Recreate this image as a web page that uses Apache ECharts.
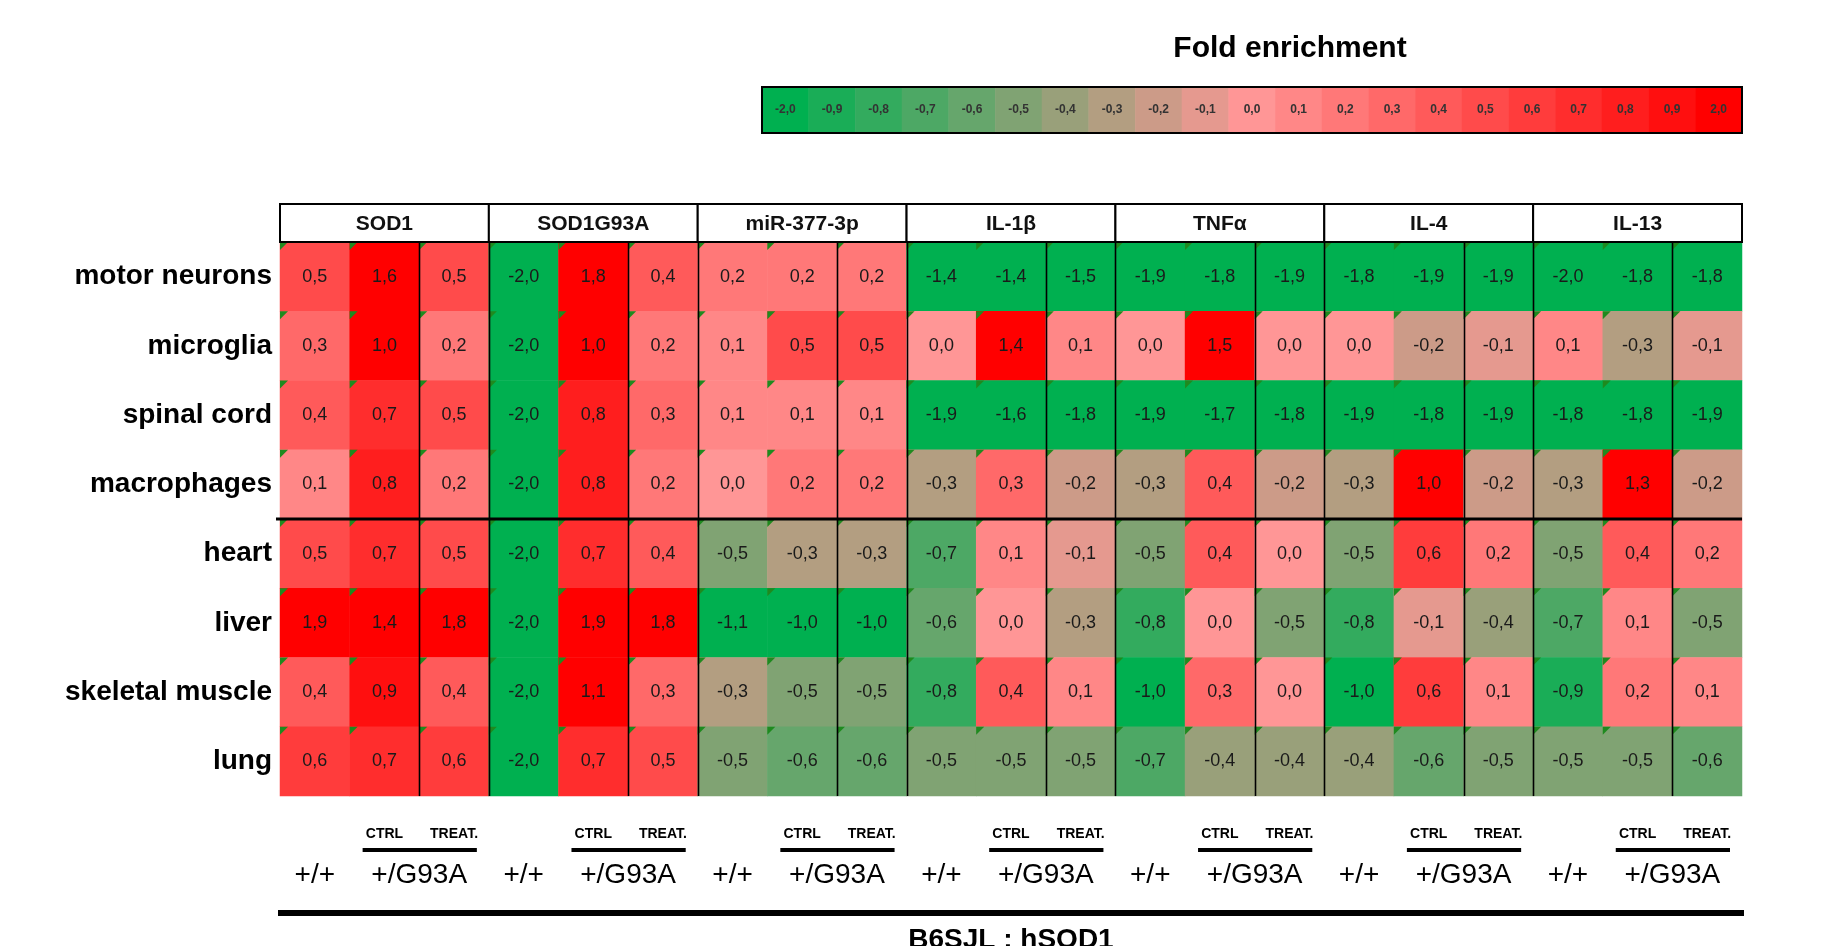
<!DOCTYPE html>
<html><head><meta charset="utf-8">
<script src="https://cdn.jsdelivr.net/npm/echarts@6/dist/echarts.min.js"></script>
<style>html,body{margin:0;padding:0;background:#fff}#c{width:1821px;height:946px}</style>
</head><body><div id="c"></div>
<script>
// ---------- data ----------
const tissues = ['motor neurons','microglia','spinal cord','macrophages','heart','liver','skeletal muscle','lung'];
const groups = ['SOD1','SOD1G93A','miR-377-3p','IL-1β','TNFα','IL-4','IL-13'];
const conditionsPerGroup = ['+/+','CTRL','TREAT.'];
const genotypeLabels = ['+/+','+/G93A'];
const strainLabel = 'B6SJL ; hSOD1';
const legendTitle = 'Fold enrichment';
const separatorAfter = 'macrophages';

const motorNeurons   = [0.5,1.6,0.5,-2.0,1.8,0.4,0.2,0.2,0.2,-1.4,-1.4,-1.5,-1.9,-1.8,-1.9,-1.8,-1.9,-1.9,-2.0,-1.8,-1.8];
const microglia      = [0.3,1.0,0.2,-2.0,1.0,0.2,0.1,0.5,0.5,0.0,1.4,0.1,0.0,1.5,0.0,0.0,-0.2,-0.1,0.1,-0.3,-0.1];
const spinalCord     = [0.4,0.7,0.5,-2.0,0.8,0.3,0.1,0.1,0.1,-1.9,-1.6,-1.8,-1.9,-1.7,-1.8,-1.9,-1.8,-1.9,-1.8,-1.8,-1.9];
const macrophages    = [0.1,0.8,0.2,-2.0,0.8,0.2,0.0,0.2,0.2,-0.3,0.3,-0.2,-0.3,0.4,-0.2,-0.3,1.0,-0.2,-0.3,1.3,-0.2];
const heart          = [0.5,0.7,0.5,-2.0,0.7,0.4,-0.5,-0.3,-0.3,-0.7,0.1,-0.1,-0.5,0.4,0.0,-0.5,0.6,0.2,-0.5,0.4,0.2];
const liver          = [1.9,1.4,1.8,-2.0,1.9,1.8,-1.1,-1.0,-1.0,-0.6,0.0,-0.3,-0.8,0.0,-0.5,-0.8,-0.1,-0.4,-0.7,0.1,-0.5];
const skeletalMuscle = [0.4,0.9,0.4,-2.0,1.1,0.3,-0.3,-0.5,-0.5,-0.8,0.4,0.1,-1.0,0.3,0.0,-1.0,0.6,0.1,-0.9,0.2,0.1];
const lung           = [0.6,0.7,0.6,-2.0,0.7,0.5,-0.5,-0.6,-0.6,-0.5,-0.5,-0.5,-0.7,-0.4,-0.4,-0.4,-0.6,-0.5,-0.5,-0.5,-0.6];

const legendValues = [-2.0,-0.9,-0.8,-0.7,-0.6,-0.5,-0.4,-0.3,-0.2,-0.1,0.0,0.1,0.2,0.3,0.4,0.5,0.6,0.7,0.8,0.9,2.0];
const colorStops = ['#00B050','#00B050','#FF9696','#FF0000','#FF0000']; // at -2,-1,0,1,2

// ---------- build ----------
const rows = [motorNeurons, microglia, spinalCord, macrophages, heart, liver, skeletalMuscle, lung];
const columns = [];
groups.forEach(g => conditionsPerGroup.forEach(c => columns.push(g + ' ' + c)));
const heatData = [];
rows.forEach((r, ri) => r.forEach((v, ci) => heatData.push([ci, ri, v])));
const cellCorners = heatData.map(d => [d[0], d[1]]);
const dividers = [];
groups.forEach((g, gi) => {
  if (gi > 0) dividers.push([gi * 3, 0]);
  dividers.push([gi * 3 + 2, 0]);
});
const sepRow = tissues.indexOf(separatorAfter) + 1;
const fmt = v => v.toFixed(1).replace('.', ',');
const FONT = "'Liberation Sans', Arial, sans-serif";

const G = {left: 280, top: 242, width: 1462, height: 554};

const chart = echarts.init(document.getElementById('c'), null, {renderer: 'canvas'});
const option = {
  backgroundColor: '#fff',
  animation: false,
  textStyle: {fontFamily: FONT},
  grid: [
    {left: G.left, top: G.top, width: G.width, height: G.height},
    {left: G.left, top: 204, width: G.width, height: 38},
    {left: G.left, top: 800, width: G.width, height: 140},
    {left: 762, top: 87, width: 980, height: 46}
  ],
  xAxis: [
    {type: 'category', gridIndex: 0, data: columns, show: false},
    {type: 'category', gridIndex: 1, data: groups, show: false},
    {type: 'category', gridIndex: 2, data: columns, show: false},
    {type: 'category', gridIndex: 3, data: legendValues.map(fmt), show: false}
  ],
  yAxis: [
    {type: 'category', gridIndex: 0, data: tissues, inverse: true,
     axisLine: {show: false}, axisTick: {show: false}, splitLine: {show: false},
     axisLabel: {fontSize: 28, fontWeight: 'bold', color: '#000', margin: 8, fontFamily: FONT,
                 padding: [0, 0, 8, 0]}},
    {type: 'category', gridIndex: 1, data: ['h'], show: false},
    {type: 'category', gridIndex: 2, data: ['b'], show: false},
    {type: 'category', gridIndex: 3, data: ['l'], show: false}
  ],
  visualMap: {
    type: 'continuous', show: false, min: -2, max: 2, dimension: 2,
    seriesIndex: [0, 6],
    inRange: {color: colorStops}
  },
  graphic: [{
    type: 'text', x: 1290, y: 49,
    style: {text: legendTitle, align: 'center', verticalAlign: 'middle',
            font: 'bold 30px ' + FONT, fill: '#000'}
  }],
  series: [
    {type: 'heatmap', xAxisIndex: 0, yAxisIndex: 0, data: heatData,
     emphasis: {disabled: true},
     label: {show: true, formatter: p => fmt(p.value[2]), fontSize: 18, color: '#1a1a1a', fontFamily: FONT}},
    {type: 'custom', xAxisIndex: 0, yAxisIndex: 0, data: cellCorners, z: 3,
     renderItem: (params, api) => {
       const p = api.coord([api.value(0), api.value(1)]);
       const s = api.size([1, 1]);
       const x0 = p[0] - s[0] / 2, y0 = p[1] - s[1] / 2;
       return {type: 'polygon', shape: {points: [[x0, y0], [x0 + 8, y0], [x0, y0 + 8]]},
               style: {fill: '#1f8a1f'}};
     }},
    {type: 'custom', xAxisIndex: 0, yAxisIndex: 0, data: dividers, z: 4,
     renderItem: (params, api) => {
       const p = api.coord([api.value(0), 0]);
       const s = api.size([1, 1]);
       const x = Math.round(p[0] - s[0] / 2) + 0.5;
       const cs = params.coordSys;
       return {type: 'line', shape: {x1: x, y1: cs.y, x2: x, y2: cs.y + cs.height},
               style: {stroke: '#000', lineWidth: 1.6}};
     }},
    {type: 'custom', xAxisIndex: 0, yAxisIndex: 0, data: [[0, sepRow]], z: 5,
     renderItem: (params, api) => {
       const p = api.coord([0, api.value(1)]);
       const s = api.size([1, 1]);
       const y = p[1] - s[1] / 2;
       const cs = params.coordSys;
       return {type: 'line', shape: {x1: cs.x - 4, y1: y, x2: cs.x + cs.width, y2: y},
               style: {stroke: '#000', lineWidth: 3}};
     }},
    {type: 'custom', xAxisIndex: 1, yAxisIndex: 1, data: groups.map((g, i) => [i, 0]), z: 5,
     renderItem: (params, api) => {
       const i = api.value(0);
       const p = api.coord([i, 0]);
       const s = api.size([1, 1]);
       const cs = params.coordSys;
       return {type: 'group', children: [
         {type: 'rect', shape: {x: p[0] - s[0] / 2, y: cs.y, width: s[0], height: cs.height},
          style: {fill: '#fff', stroke: '#000', lineWidth: 2}},
         {type: 'text', x: p[0], y: cs.y + cs.height / 2 + 1,
          style: {text: groups[i], align: 'center', verticalAlign: 'middle',
                  font: 'bold 21px ' + FONT, fill: '#111'}}
       ]};
     }},
    {type: 'custom', xAxisIndex: 2, yAxisIndex: 2, data: groups.map((g, i) => [i * 3, 0]),
     renderItem: (params, api) => {
       const c = api.value(0);
       const p = api.coord([c, 0]);
       const w = api.size([1, 0])[0];
       const cs = params.coordSys;
       const yG = cs.y + 75, yT = cs.y + 34, yL = cs.y + 50;
       const t = (txt, x, y, font) => ({type: 'text', x: x, y: y,
         style: {text: txt, align: 'center', verticalAlign: 'middle', font: font, fill: '#000'}});
       return {type: 'group', children: [
         t(genotypeLabels[0], p[0], yG, '28px ' + FONT),
         t(genotypeLabels[1], p[0] + 1.5 * w, yG, '28px ' + FONT),
         t(conditionsPerGroup[1], p[0] + w, yT, 'bold 14px ' + FONT),
         t(conditionsPerGroup[2], p[0] + 2 * w, yT, 'bold 14px ' + FONT),
         {type: 'line', shape: {x1: p[0] + w / 2 + 13, y1: yL, x2: p[0] + 2.5 * w - 12, y2: yL},
          style: {stroke: '#000', lineWidth: 4}}
       ]};
     }},
    {type: 'heatmap', xAxisIndex: 3, yAxisIndex: 3, data: legendValues.map((v, i) => [i, 0, v]),
     emphasis: {disabled: true},
     label: {show: true, formatter: p => fmt(p.value[2]), fontSize: 12, fontWeight: 'bold', color: '#333', fontFamily: FONT}},
    {type: 'custom', xAxisIndex: 3, yAxisIndex: 3, data: [[0, 0]], z: 5,
     renderItem: (params) => {
       const cs = params.coordSys;
       return {type: 'rect', shape: {x: cs.x, y: cs.y, width: cs.width, height: cs.height},
               style: {fill: 'none', stroke: '#000', lineWidth: 2}};
     }},
    {type: 'custom', xAxisIndex: 2, yAxisIndex: 2, data: [[10, 0]],
     renderItem: (params, api) => {
       const p = api.coord([api.value(0), 0]);
       const cs = params.coordSys;
       return {type: 'group', children: [
         {type: 'line', shape: {x1: cs.x - 2, y1: cs.y + 113, x2: cs.x + cs.width + 2, y2: cs.y + 113},
          style: {stroke: '#000', lineWidth: 6}},
         {type: 'text', x: p[0], y: cs.y + 126,
          style: {text: strainLabel, align: 'center', verticalAlign: 'top', font: 'bold 28px ' + FONT, fill: '#000'}}
       ]};
     }}
  ]
};
chart.setOption(option);
</script>
</body></html>
